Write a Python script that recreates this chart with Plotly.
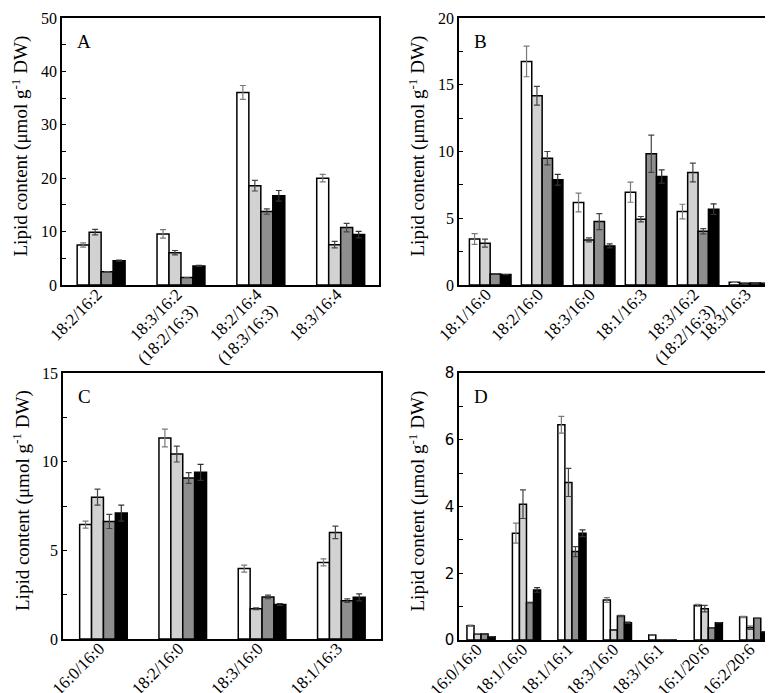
import plotly.graph_objects as go

# ---------------- data ----------------
cats_A = ["18:2/16:2", "18:3/16:2<br>(18:2/16:3)", "18:2/16:4<br>(18:3/16:3)", "18:3/16:4"]
A_white = [7.5, 9.56, 36.06, 20.0]
A_light = [9.9, 6.06, 18.6, 7.56]
A_mid = [2.5, 1.4, 13.75, 10.75]
A_black = [4.56, 3.56, 16.7, 9.44]
A_white_err = [0.4, 0.8, 1.3, 0.7]
A_light_err = [0.5, 0.4, 1.0, 0.6]
A_mid_err = [0.0, 0.0, 0.5, 0.8]
A_black_err = [0.1, 0.1, 1.0, 0.6]

cats_B = ["18:1/16:0", "18:2/16:0", "18:3/16:0", "18:1/16:3", "18:3/16:2<br>(18:2/16:3)", "18:3/16:3"]
B_white = [3.45, 16.75, 6.18, 6.95, 5.5, 0.2]
B_light = [3.13, 14.18, 3.38, 4.93, 8.43, 0.13]
B_mid = [0.83, 9.5, 4.75, 9.83, 4.03, 0.15]
B_black = [0.78, 7.88, 2.93, 8.13, 5.68, 0.13]
B_white_err = [0.4, 1.15, 0.7, 0.75, 0.55, 0.0]
B_light_err = [0.3, 0.7, 0.15, 0.2, 0.7, 0.0]
B_mid_err = [0.0, 0.5, 0.6, 1.4, 0.2, 0.0]
B_black_err = [0.0, 0.4, 0.15, 0.5, 0.4, 0.0]

cats_C = ["16:0/16:0", "18:2/16:0", "18:3/16:0", "18:1/16:3"]
C_white = [6.45, 11.33, 3.97, 4.32]
C_light = [8.0, 10.43, 1.71, 6.01]
C_mid = [6.63, 9.08, 2.37, 2.16]
C_black = [7.1, 9.4, 1.94, 2.35]
C_white_err = [0.2, 0.5, 0.2, 0.2]
C_light_err = [0.45, 0.45, 0.05, 0.35]
C_mid_err = [0.4, 0.3, 0.1, 0.1]
C_black_err = [0.45, 0.45, 0.05, 0.2]

cats_D = ["16:0/16:0", "18:1/16:0", "18:1/16:1", "18:3/16:0", "18:3/16:1", "16:1/20:6", "16:2/20:6"]
D_white = [0.43, 3.2, 6.45, 1.2, 0.15, 1.04, 0.69]
D_light = [0.17, 4.07, 4.72, 0.3, 0.0, 0.94, 0.37]
D_mid = [0.18, 1.12, 2.65, 0.72, 0.0, 0.37, 0.65]
D_black = [0.1, 1.5, 3.2, 0.52, 0.0, 0.52, 0.25]
D_white_err = [0.02, 0.3, 0.25, 0.07, 0.0, 0.03, 0.02]
D_light_err = [0.0, 0.43, 0.42, 0.0, 0.0, 0.1, 0.05]
D_mid_err = [0.0, 0.0, 0.15, 0.02, 0.0, 0.0, 0.0]
D_black_err = [0.0, 0.07, 0.1, 0.02, 0.0, 0.0, 0.0]

panels = [
    dict(label="A", cats=cats_A, vals=[A_white, A_light, A_mid, A_black],
         errs=[A_white_err, A_light_err, A_mid_err, A_black_err],
         yrange=[0, 50], dtick=10, minor=5, w=0.15, xr=[-0.49, 3.48]),
    dict(label="B", cats=cats_B, vals=[B_white, B_light, B_mid, B_black],
         errs=[B_white_err, B_light_err, B_mid_err, B_black_err],
         yrange=[0, 20], dtick=5, minor=2.5, w=0.2, xr=[-0.6, 5.5]),
    dict(label="C", cats=cats_C, vals=[C_white, C_light, C_mid, C_black],
         errs=[C_white_err, C_light_err, C_mid_err, C_black_err],
         yrange=[0, 15], dtick=5, minor=2.5, w=0.15, xr=[-0.51, 3.5]),
    dict(label="D", cats=cats_D, vals=[D_white, D_light, D_mid, D_black],
         errs=[D_white_err, D_light_err, D_mid_err, D_black_err],
         yrange=[0, 8], dtick=2, minor=1, w=0.155, xr=[-0.485, 6.49]),
]

fills = ["#ffffff", "#d2d2d2", "#8e8e8e", "#000000"]
err_cols = ["#7a7a7a", "#444444", "#444444", "#333333"]

W, H = 773, 693
boxes = [  # left, right, top, bottom in pixels
    (54, 371, 10, 277),
    (451, 768, 10, 277),
    (55, 373, 365, 631),
    (451, 768, 365, 632),
]

serif = "Liberation Serif, Times New Roman, serif"
fig = go.Figure()
layout = dict(
    template="none",
    width=W, height=H, margin=dict(l=0, r=0, t=0, b=0, autoexpand=False),
    paper_bgcolor="white", plot_bgcolor="white",
    barmode="overlay", showlegend=False,
    font=dict(family=serif, color="black", size=16),
)
annotations = []

for i, p in enumerate(panels):
    n = i + 1
    xa = "x" if n == 1 else f"x{n}"
    ya = "y" if n == 1 else f"y{n}"
    l, r, t, b = boxes[i]
    xs = list(range(len(p["cats"])))
    w = p["w"]
    for k in range(4):
        fig.add_trace(go.Bar(
            x=xs, y=p["vals"][k], xaxis=xa, yaxis=ya,
            width=w, offset=-2 * w + k * w,
            marker=dict(color=fills[k], line=dict(color="black", width=1.5)),
            error_y=dict(type="data", array=p["errs"][k], visible=True,
                         color=err_cols[k], thickness=1.2, width=3),
        ))
    tickfont_y = dict(family=serif, size=16, color="black")
    if p["label"] == "D":
        tickfont_y = dict(family="DejaVu Sans, sans-serif", size=15, color="black")
    layout[("xaxis" if n == 1 else f"xaxis{n}")] = dict(
        domain=[l / W, r / W], anchor=ya, range=p["xr"], automargin=False,
        tickmode="array", tickvals=xs, ticktext=p["cats"], tickangle=-45,
        ticklabelstandoff=-9, ticklabelshift=-4,
        ticks="", showline=True, linecolor="black", linewidth=1.5, mirror=True,
        showgrid=False, zeroline=False,
        tickfont=dict(family=serif, size=17, color="black"),
    )
    layout[("yaxis" if n == 1 else f"yaxis{n}")] = dict(
        domain=[1 - b / H, 1 - t / H], anchor=xa, range=p["yrange"], automargin=False,
        dtick=p["dtick"], tick0=0, ticks="inside", ticklen=4, tickwidth=1,
        tickcolor="black",
        minor=dict(dtick=p["minor"], tick0=0, ticks="inside", ticklen=4,
                   tickwidth=1, tickcolor="black", showgrid=False),
        showline=True, linecolor="black", linewidth=1.5, mirror=True,
        showgrid=False, zeroline=False, tickfont=tickfont_y,
    )
    annotations.append(dict(
        x=(l + 13) / W, y=1 - (t + 11) / H, xref="paper", yref="paper",
        xanchor="left", yanchor="top", text=p["label"], showarrow=False,
        font=dict(family=serif, size=19, color="black"),
    ))
    annotations.append(dict(
        x=(l - 42) / W, y=1 - ((t + b) / 2 - 5) / H, xref="paper", yref="paper",
        xanchor="center", yanchor="middle", textangle=-90,
        text="Lipid content (μmol g<sup>-1</sup> DW)", showarrow=False,
        font=dict(family=serif, size=19, color="black"),
    ))

layout["annotations"] = annotations
fig.update_layout(**layout)
fig.write_html("out.html")
